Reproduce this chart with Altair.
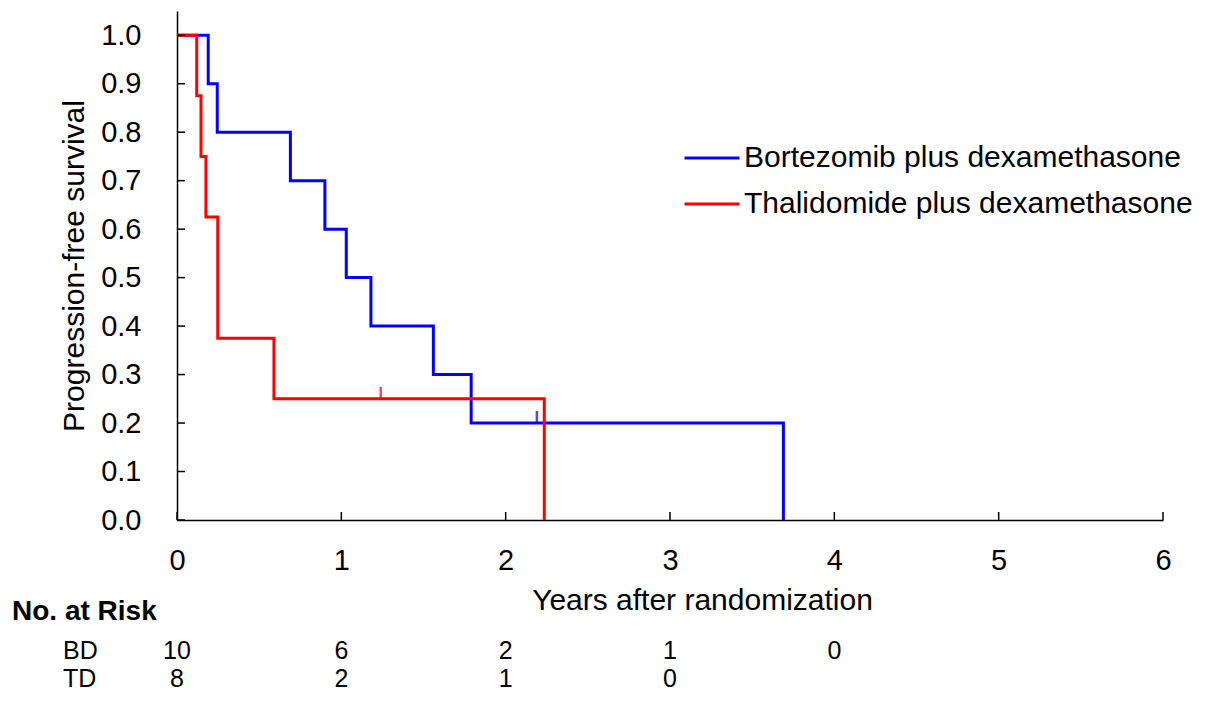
import altair as alt
import pandas as pd

# ---- data ----
groups = ["Bortezomib plus dexamethasone", "Thalidomide plus dexamethasone"]
colors = ["#0000FF", "#FF0000"]

bd_time = [0.0, 0.19, 0.245, 0.69, 0.90, 1.03, 1.18, 1.56, 1.79, 3.69]
bd_surv = [1.0, 0.9, 0.8, 0.7, 0.6, 0.5, 0.4, 0.3, 0.2, 0.0]
td_time = [0.0, 0.12, 0.146, 0.176, 0.248, 0.59, 2.235]
td_surv = [1.0, 0.875, 0.75, 0.625, 0.375, 0.25, 0.0]

bd_censor_time = [2.19]
bd_censor_surv = [0.2]
td_censor_time = [1.24]
td_censor_surv = [0.25]

risk_title = "No. at Risk"
risk_labels = ["BD", "TD"]
bd_risk_years = [0, 1, 2, 3, 4]
bd_risk = [10, 6, 2, 1, 0]
td_risk_years = [0, 1, 2, 3]
td_risk = [8, 2, 1, 0]

x_ticks = [0, 1, 2, 3, 4, 5, 6]
y_ticks = [0.0, 0.1, 0.2, 0.3, 0.4, 0.5, 0.6, 0.7, 0.8, 0.9, 1.0]

# ---- tables ----
curves = pd.DataFrame(
    [{"time": t, "surv": s, "group": groups[0], "k": i} for i, (t, s) in enumerate(zip(bd_time, bd_surv))]
    + [{"time": t, "surv": s, "group": groups[1], "k": i} for i, (t, s) in enumerate(zip(td_time, td_surv))]
)
censors = pd.DataFrame(
    [{"time": t, "surv": s, "group": groups[0]} for t, s in zip(bd_censor_time, bd_censor_surv)]
    + [{"time": t, "surv": s, "group": groups[1]} for t, s in zip(td_censor_time, td_censor_surv)]
)
risk_bd = pd.DataFrame({"year": bd_risk_years, "n": [str(v) for v in bd_risk]})
risk_td = pd.DataFrame({"year": td_risk_years, "n": [str(v) for v in td_risk]})
xt = pd.DataFrame({"v": x_ticks})
yt = pd.DataFrame({"v": y_ticks})

W, H = 986, 509
FONT = "Liberation Sans"
ROW_BD, ROW_TD = 640, 668
RISK_FS = 25

xscale = alt.Scale(domain=[0, 6], nice=False, zero=False)
yscale = alt.Scale(domain=[0, 1.05], nice=False, zero=False)
cscale = alt.Scale(domain=groups, range=colors)

xaxis = alt.Axis(values=x_ticks, format="d", ticks=False, grid=False, labelFlush=False,
                 domainColor="black", domainWidth=1.5, labelFontSize=29, labelPadding=26,
                 labelColor="black", labelFont=FONT,
                 title="Years after randomization", titleFontSize=30, titleFontWeight="normal",
                 titleColor="black", titleFont=FONT, titleX=525, titleY=65)
yaxis = alt.Axis(values=y_ticks, format=".1f", ticks=False, grid=False,
                 domainColor="black", domainWidth=1.5, labelFontSize=29, labelPadding=36,
                 labelColor="black", labelFont=FONT,
                 title="Progression-free survival", titleFontSize=30, titleFontWeight="normal",
                 titleColor="black", titleFont=FONT, titleX=-88)

lines = alt.Chart(curves).mark_line(interpolate="step-after", strokeWidth=3).encode(
    x=alt.X("time:Q", scale=xscale, axis=xaxis),
    y=alt.Y("surv:Q", scale=yscale, axis=yaxis),
    color=alt.Color("group:N", scale=cscale,
                    legend=alt.Legend(title=None, orient="none", legendX=506, legendY=118,
                                      symbolType="stroke", symbolSize=3025, symbolStrokeWidth=3,
                                      labelFontSize=30, labelFont=FONT, labelColor="black",
                                      labelLimit=900, labelOffset=3, rowPadding=2, padding=0)),
    order="k:Q",
)

cens = alt.Chart(censors).mark_tick(orient="vertical", size=12, thickness=2.5, yOffset=-6).encode(
    x="time:Q", y="surv:Q", color=alt.Color("group:N", scale=cscale, legend=None)
)

yticks = alt.Chart(yt).mark_rule(color="black", strokeWidth=1.5).encode(
    y="v:Q", x=alt.value(0), x2=alt.value(8)
)
xticks = alt.Chart(xt).mark_rule(color="black", strokeWidth=1.5).encode(
    x="v:Q", y=alt.value(H), y2=alt.value(H - 8)
)

risk_head = alt.Chart(pd.DataFrame({"t": [risk_title]})).mark_text(
    align="left", baseline="middle", font=FONT, fontSize=28, fontWeight="bold", color="black"
).encode(x=alt.value(-165), y=alt.value(601), text="t:N")

risk_lab_bd = alt.Chart(pd.DataFrame({"t": [risk_labels[0]]})).mark_text(
    align="left", baseline="middle", font=FONT, fontSize=RISK_FS, color="black"
).encode(x=alt.value(-114), y=alt.value(ROW_BD), text="t:N")
risk_lab_td = alt.Chart(pd.DataFrame({"t": [risk_labels[1]]})).mark_text(
    align="left", baseline="middle", font=FONT, fontSize=RISK_FS, color="black"
).encode(x=alt.value(-114), y=alt.value(ROW_TD), text="t:N")

risk_num_bd = alt.Chart(risk_bd).mark_text(
    align="center", baseline="middle", font=FONT, fontSize=RISK_FS, color="black"
).encode(x="year:Q", y=alt.value(ROW_BD), text="n:N")
risk_num_td = alt.Chart(risk_td).mark_text(
    align="center", baseline="middle", font=FONT, fontSize=RISK_FS, color="black"
).encode(x="year:Q", y=alt.value(ROW_TD), text="n:N")

chart = alt.layer(
    lines, cens, yticks, xticks, risk_head, risk_lab_bd, risk_lab_td, risk_num_bd, risk_num_td
).properties(
    width=W, height=H,
    autosize=alt.AutoSizeParams(type="none"),
    padding={"left": 169, "top": 3, "right": 34, "bottom": 176},
).configure_view(stroke=None, strokeWidth=0)

chart.save("out.html", embed_options={"renderer": "svg", "actions": False})
